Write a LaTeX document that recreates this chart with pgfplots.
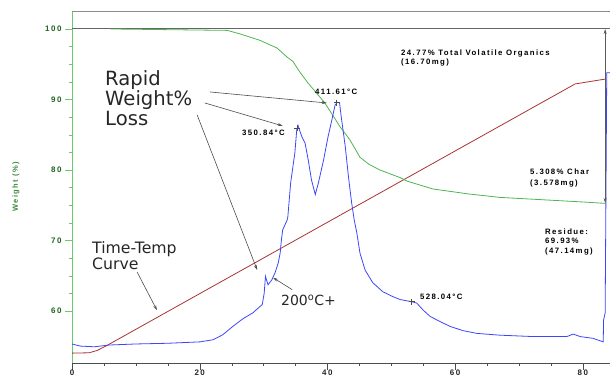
\documentclass[border=0pt]{standalone}
\usepackage{pgfplots}
\pgfplotsset{compat=1.18}
\usepackage{fontspec}
\setmainfont{Liberation Sans}
\newfontfamily\bigfont{DejaVu Sans}
\newfontfamily\lblfont[LetterSpace=18]{Liberation Sans}
\usetikzlibrary{arrows.meta}
\definecolor{bluec}{RGB}{60,70,250}
\definecolor{greenc}{RGB}{80,180,80}
\definecolor{redc}{RGB}{170,50,50}
\definecolor{axgreen}{RGB}{110,200,110}
\definecolor{tkgreen}{RGB}{30,100,30}
\begin{document}
\begin{tikzpicture}
\useasboundingbox (0,0) rectangle (610pt,377pt);
\begin{axis}[
 at={(72pt,14pt)}, anchor=south west,
 scale only axis, width=538pt, height=352pt,
 xmin=0, xmax=84.26, ymin=52.6, ymax=102.55,
 axis x line*=bottom, axis y line*=left,
 x axis line style={black!70,-}, y axis line style={axgreen,-},
 xtick={0,20,40,60,80}, minor x tick num=3,
 ytick={60,70,80,90,100}, minor y tick num=3,
 tick align=outside,
 major tick length=7pt, minor tick length=3pt,
 xtick style={black!70}, ytick style={axgreen},
 /pgf/number format/assume math mode=true,
 xticklabel style={font=\lblfont\bfseries\fontsize{8}{9}\selectfont, black!85, yshift=3.5pt},
 yticklabel style={font=\lblfont\bfseries\fontsize{8}{9}\selectfont, tkgreen},
 ylabel={Weight (\%)},
 every axis y label/.style={at={(axis description cs:-0.104,0.5)}, rotate=90, anchor=center, font=\lblfont\bfseries\fontsize{7.5}{9}\selectfont, text=greenc!75!black},
 clip=false,
]
\draw[black!45, line width=0.9pt] (rel axis cs:0,1) -- (rel axis cs:1,1);
\draw[black!60, line width=1pt] (axis cs:0,100) -- (axis cs:84.26,100);

\addplot[redc, line width=0.8pt] coordinates {(0,54.0)(2.7,54.05)(4.0,54.4)(5.5,55.1)(78.8,92.2)(83.6,92.9)};
\addplot[greenc, line width=0.8pt] coordinates {(6,100)(15,99.9)(24.3,99.8)(26.3,99.3)(29.4,98.4)(32.1,97.3)(33.7,96.0)(34.6,95.4)(35.6,94.0)(36.9,92.4)(38.2,91.0)(39.6,89.5)(42.0,86.1)(43.5,84.3)(45.1,81.8)(46.5,80.8)(48.2,80.0)(51.4,78.9)(52.5,78.4)(56.5,77.3)(62,76.6)(67,76.1)(75,75.7)(80,75.45)(83.5,75.25)};
\addplot[bluec, line width=0.8pt] coordinates {(0,55.3)(1.3,55.0)(3.5,54.9)(5.8,55.15)(10,55.3)(15,55.4)(20.05,55.6)(22.1,55.9)(23.6,56.6)(25.2,57.8)(26.8,58.9)(28.3,59.7)(29.8,60.9)(30.1,62.5)(30.3,64.9)(30.7,63.7)(31.3,64.4)(31.8,65.4)(32.3,66.8)(32.6,68.2)(32.8,70.1)(33.0,71.5)(33.7,72.9)(33.8,73.3)(34.25,78.2)(34.9,82.4)(35.2,85.7)(35.4,86.3)(36.0,84.7)(36.5,83.8)(37.0,81.4)(37.5,78.6)(38.1,76.5)(38.6,78.2)(39.4,81.4)(40.1,84.7)(40.7,87.1)(41.2,89.2)(41.55,89.6)(41.9,89.5)(42.2,87.3)(42.8,83.3)(43.3,79.0)(43.8,75.3)(44.2,72.9)(44.6,71.1)(45.1,68.2)(45.9,65.8)(47.1,64.0)(48.7,62.7)(50.3,62.0)(51.4,61.6)(53.2,61.3)(54.0,61.1)(55.0,60.1)(56.1,59.2)(57.6,58.5)(59.2,57.8)(61.2,57.2)(63.4,56.8)(67.0,56.55)(72.2,56.35)(77.5,56.35)(78.5,56.7)(79.6,56.35)(81.6,56.1)(83.2,55.6)(83.25,58.7)(83.5,59.7)(83.75,93.8)(84.3,93.8)};
\addplot[only marks, mark=+, mark size=3pt, black!70, mark options={line width=0.6pt}] coordinates {(35.3,85.9)(41.45,89.55)(53.2,61.32)};

\draw[black!65, line width=0.7pt, {Stealth[length=5pt,width=3pt]}-{Stealth[length=5pt,width=3pt]}] (axis cs:83.5,100) -- (axis cs:83.5,75.3);

% big annotations
\node[anchor=base west, inner sep=0, font=\bigfont\fontsize{19.6}{20}\selectfont, text=black!85] at (axis cs:5.17,91.91) {Rapid};
\node[anchor=base west, inner sep=0, font=\bigfont\fontsize{19.6}{20}\selectfont, text=black!85] at (axis cs:5.17,89.08) {Weight\%};
\node[anchor=base west, inner sep=0, font=\bigfont\fontsize{19.6}{20}\selectfont, text=black!85] at (axis cs:5.17,86.24) {Loss};
\node[anchor=base west, inner sep=0, font=\bigfont\fontsize{15.7}{16}\selectfont, text=black!85] at (axis cs:3.13,68.09) {Time-Temp};
\node[anchor=base west, inner sep=0, font=\bigfont\fontsize{15.7}{16}\selectfont, text=black!85] at (axis cs:3.13,65.82) {Curve};
\node[anchor=base west, inner sep=0, font=\bigfont\fontsize{14}{15}\selectfont, text=black!85] at (axis cs:32.73,60.71) {200\textsuperscript{o}C+};

% arrows
\draw[black!70, line width=0.6pt, -{Stealth[length=5pt,width=3pt]}] (axis cs:21.6,91.06) -- (axis cs:39.9,89.5);
\draw[black!70, line width=0.6pt, -{Stealth[length=5pt,width=3pt]}] (axis cs:20.8,89.5) -- (axis cs:33.0,86.24);
\draw[black!70, line width=0.6pt, -{Stealth[length=5pt,width=3pt]}] (axis cs:19.6,87.8) -- (axis cs:29.0,65.8);
\draw[black!70, line width=0.6pt, -{Stealth[length=5pt,width=3pt]}] (axis cs:10.2,65.5) -- (axis cs:13.3,60.1);
\draw[black!70, line width=0.6pt, -{Stealth[length=5pt,width=3pt]}] (axis cs:34.5,63.0) -- (axis cs:31.5,64.7);

% small labels
\tikzset{sl/.style={anchor=base west, inner sep=0, font=\lblfont\bfseries\fontsize{7.8}{8}\selectfont}}
\node[sl] at (axis cs:26.63,84.82) {350.84°C};
\node[sl] at (axis cs:38.06,90.64) {411.61°C};
\node[sl] at (axis cs:54.5,61.56) {528.04°C};
\node[sl] at (axis cs:51.53,96.17) {24.77\% Total Volatile Organics};
\node[sl] at (axis cs:51.53,94.89) {(16.70mg)};
\node[sl] at (axis cs:71.73,79.29) {5.308\% Char};
\node[sl] at (axis cs:71.73,77.73) {(3.578mg)};
\node[sl] at (axis cs:74.08,70.78) {Residue:};
\node[sl] at (axis cs:74.08,69.50) {69.93\%};
\node[sl] at (axis cs:74.08,68.09) {(47.14mg)};
\end{axis}
\end{tikzpicture}
\end{document}
